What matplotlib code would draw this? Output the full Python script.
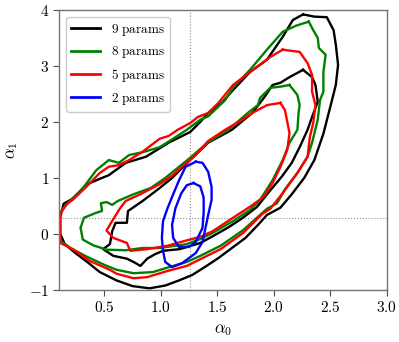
import matplotlib
matplotlib.use("Agg")
import matplotlib.pyplot as plt
import numpy as np

plt.rcParams['mathtext.fontset'] = 'cm'
plt.rcParams['font.family'] = 'serif'
plt.rcParams['font.serif'] = ['DejaVu Serif']

# reference values
x_ref = 1.26
y_ref = 0.29

# contour polylines (alpha0, alpha1)
black_outer_x = [2.26,2.36,2.47,2.53,2.55,2.57,2.55,2.51,2.44,2.36,2.27,2.16,2.06,1.94,1.86,1.75,1.63,1.51,1.39,1.28,1.16,1.04,0.90,0.75,0.61,0.46,0.35,0.25,0.15,0.11,0.11,0.14,0.22,0.34,0.43,0.54,0.69,0.87,1.07,1.26,1.35,1.42,1.54,1.64,1.79,1.94,2.08,2.17,2.26]
black_outer_y = [3.92,3.88,3.87,3.64,3.38,3.02,2.66,2.34,1.79,1.32,1.00,0.71,0.47,0.34,0.16,-0.07,-0.25,-0.43,-0.59,-0.73,-0.83,-0.92,-0.97,-0.93,-0.83,-0.68,-0.50,-0.35,-0.18,0.00,0.30,0.54,0.63,0.88,0.96,1.05,1.27,1.38,1.63,1.82,2.00,2.16,2.34,2.57,2.89,3.11,3.52,3.82,3.92]

black_inner_x = [2.26,2.34,2.37,2.39,2.34,2.30,2.23,2.16,2.07,1.97,1.85,1.72,1.60,1.46,1.35,1.17,1.02,0.95,0.88,0.82,0.76,0.70,0.58,0.49,0.55,0.57,0.60,0.70,0.71,0.84,0.99,1.10,1.26,1.42,1.63,1.81,1.92,1.99,2.06,2.14,2.26]
black_inner_y = [2.93,2.80,2.66,2.36,2.09,1.86,1.55,1.27,1.02,0.78,0.48,0.28,0.12,-0.04,-0.16,-0.27,-0.30,-0.36,-0.44,-0.57,-0.50,-0.44,-0.39,-0.27,-0.18,0.05,0.20,0.20,0.41,0.59,0.82,1.00,1.32,1.63,1.86,2.16,2.45,2.66,2.70,2.80,2.93]

green_outer_x = [2.31,2.35,2.39,2.40,2.46,2.44,2.44,2.41,2.39,2.34,2.30,2.21,2.10,2.03,1.94,1.73,1.53,1.35,1.23,1.11,0.93,0.76,0.61,0.50,0.34,0.20,0.11,0.10,0.11,0.13,0.22,0.30,0.43,0.54,0.63,0.72,0.84,0.99,1.07,1.23,1.35,1.42,1.57,1.64,1.79,1.94,2.08,2.20,2.31]
green_outer_y = [3.79,3.64,3.50,3.32,3.20,2.89,2.54,2.39,2.04,1.63,1.38,1.09,0.80,0.55,0.45,0.07,-0.21,-0.39,-0.50,-0.57,-0.68,-0.70,-0.64,-0.55,-0.40,-0.25,-0.12,0.10,0.36,0.45,0.64,0.79,1.14,1.32,1.27,1.41,1.46,1.55,1.65,1.86,2.04,2.10,2.39,2.61,2.93,3.29,3.61,3.72,3.79]

green_inner_x = [2.14,2.21,2.23,2.22,2.21,2.14,2.08,1.99,1.88,1.79,1.64,1.46,1.35,1.23,0.99,0.84,0.69,0.52,0.40,0.31,0.29,0.32,0.43,0.48,0.47,0.52,0.57,0.62,0.76,0.91,1.04,1.26,1.42,1.60,1.77,1.86,1.88,1.97,2.06,2.14]
green_inner_y = [2.66,2.48,2.30,2.16,1.86,1.63,1.32,0.96,0.61,0.43,0.23,0.02,-0.09,-0.18,-0.25,-0.25,-0.29,-0.28,-0.20,-0.10,0.11,0.29,0.38,0.41,0.55,0.57,0.52,0.59,0.71,0.82,1.00,1.36,1.64,1.86,2.16,2.30,2.43,2.61,2.63,2.66]

red_outer_x = [2.08,2.23,2.30,2.34,2.34,2.37,2.35,2.32,2.30,2.21,2.08,1.97,1.90,1.73,1.53,1.35,1.23,1.06,0.88,0.76,0.61,0.55,0.37,0.22,0.11,0.11,0.11,0.17,0.22,0.34,0.46,0.54,0.63,0.72,0.84,0.99,1.07,1.15,1.26,1.33,1.42,1.51,1.64,1.79,1.97,2.08]
red_outer_y = [3.29,3.25,3.05,2.84,2.54,2.30,1.98,1.73,1.38,1.09,0.73,0.45,0.36,0.02,-0.27,-0.45,-0.57,-0.66,-0.77,-0.79,-0.71,-0.64,-0.48,-0.27,-0.16,0.10,0.36,0.54,0.61,0.84,1.09,1.20,1.23,1.32,1.47,1.70,1.75,1.86,1.98,2.09,2.16,2.34,2.66,2.89,3.16,3.29]

red_inner_x = [2.06,2.10,2.14,2.12,2.06,1.99,1.91,1.80,1.64,1.46,1.35,1.20,1.06,0.88,0.73,0.70,0.58,0.52,0.56,0.64,0.69,0.82,0.99,1.10,1.20,1.31,1.42,1.57,1.72,1.81,1.94,2.06]
red_inner_y = [2.34,2.21,1.80,1.50,1.20,0.91,0.66,0.50,0.29,0.05,-0.05,-0.13,-0.21,-0.27,-0.30,-0.16,-0.07,0.06,0.20,0.46,0.59,0.71,0.89,1.04,1.22,1.41,1.66,1.86,2.04,2.16,2.30,2.34]

blue_outer_x = [1.31,1.37,1.42,1.45,1.45,1.42,1.37,1.31,1.19,1.10,1.04,1.02,1.01,1.02,1.06,1.11,1.16,1.22,1.31]
blue_outer_y = [1.29,1.27,1.11,0.84,0.61,0.34,-0.14,-0.34,-0.52,-0.59,-0.50,-0.30,-0.07,0.23,0.46,0.71,0.95,1.20,1.29]

blue_inner_x = [1.29,1.35,1.38,1.38,1.37,1.31,1.25,1.16,1.11,1.10,1.13,1.18,1.23,1.29]
blue_inner_y = [0.91,0.85,0.65,0.39,0.11,-0.14,-0.23,-0.23,-0.07,0.16,0.46,0.72,0.87,0.91]

labels = ['9 params', '8 params', '5 params', '2 params']
colors = ['black', 'green', 'red', 'blue']

x_ticks = [0.5, 1.0, 1.5, 2.0, 2.5, 3.0]
y_ticks = [-1, 0, 1, 2, 3, 4]

fig = plt.figure(figsize=(3.99, 3.42), dpi=100)
ax = fig.add_axes([0.149, 0.152, 0.820, 0.819])

ax.axvline(x_ref, color='0.55', ls=':', lw=0.8, zorder=0)
ax.axhline(y_ref, color='0.55', ls=':', lw=0.8, zorder=0)

sets = [
    (black_outer_x, black_outer_y, black_inner_x, black_inner_y),
    (green_outer_x, green_outer_y, green_inner_x, green_inner_y),
    (red_outer_x, red_outer_y, red_inner_x, red_inner_y),
    (blue_outer_x, blue_outer_y, blue_inner_x, blue_inner_y),
]
lw = 1.7
for (ox, oy, ix, iy), c, lab in zip(sets, colors, labels):
    ax.plot(ox, oy, color=c, lw=lw, label=r'$\mathrm{' + lab.replace(' ', r'\ ') + '}$')
    ax.plot(ix, iy, color=c, lw=lw)

ax.set_xlim(0.103, 3.0)
ax.set_ylim(-1, 4)
ax.set_xticks(x_ticks)
ax.set_xticklabels([r'$%.1f$' % v for v in x_ticks])
ax.set_yticks(y_ticks)
ax.set_yticklabels([r'$%d$' % v for v in y_ticks])
ax.tick_params(labelsize=11, length=4, color='0.3', direction='out', top=False, right=False)
ax.set_xlabel(r'$\alpha_0$', fontsize=12, labelpad=4)
ax.set_ylabel(r'$\alpha_1$', fontsize=12, labelpad=6)
for s in ax.spines.values():
    s.set_color('0.45')
    s.set_linewidth(1.0)

leg = ax.legend(loc='upper left', fontsize=9.5, handlelength=2.2, framealpha=1,
                edgecolor='0.8', fancybox=True, borderaxespad=0.5)
for l in leg.get_lines():
    l.set_linewidth(2.0)

fig.savefig('out.png', dpi=100)
